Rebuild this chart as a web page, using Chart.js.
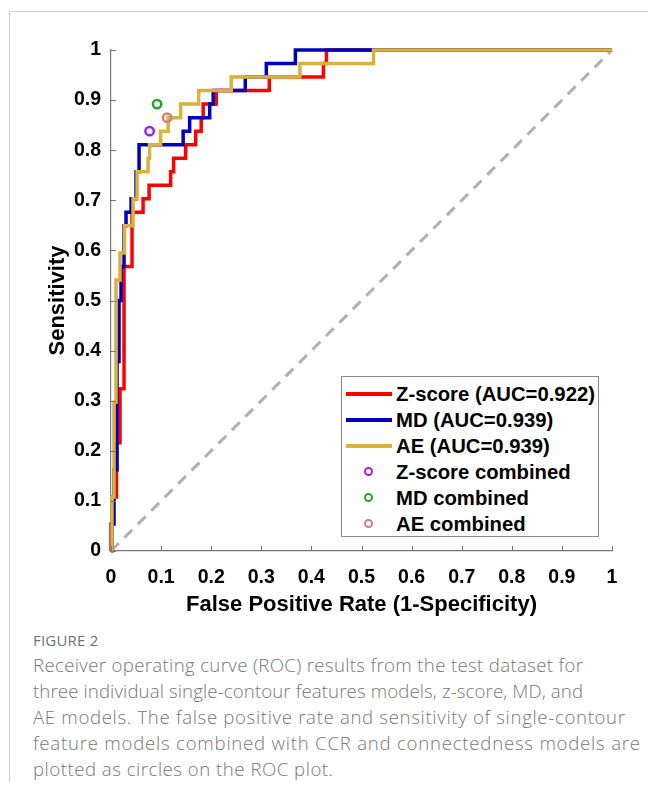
<!DOCTYPE html>
<html>
<head>
<meta charset="utf-8">
<script src="https://cdn.jsdelivr.net/npm/chart.js@4.4.1/dist/chart.umd.min.js"></script>
<style>
  html, body { margin:0; padding:0; background:#fff; }
  body { width:648px; height:794px; position:relative; overflow:hidden; font-family:"Liberation Sans", Arial, sans-serif; }
  #frame { position:absolute; left:9px; top:11px; width:700px; height:770px; border-left:1px solid #cfcfcf; border-top:1px solid #cfcfcf; }
  #wrap { position:absolute; left:0; top:0; width:648px; height:620px; }
  #legend { position:absolute; left:341px; top:376px; width:258px; height:161px; border:1px solid #8a8a8a; background:#fff; box-sizing:border-box; padding-top:4px; }
  .row { position:relative; height:26px; line-height:26px; font-weight:bold; font-size:20.3px; color:#000; white-space:nowrap; }
  .row .sw { position:absolute; left:4px; top:11px; width:46px; height:3.5px; }
  .row .mk { position:absolute; left:22px; top:8px; width:5px; height:5px; border-radius:50%; border:2.5px solid; }
  .row .tx { position:absolute; left:54px; top:0; }
  #figlabel { position:absolute; left:33px; top:631px; font-family:"Open Sans", sans-serif; font-size:15px; line-height:18px; color:#707070; letter-spacing:0.2px; }
  #caption { position:absolute; left:33px; top:652px; width:620px; font-family:"Open Sans", sans-serif; font-weight:300; font-size:18.6px; line-height:26px; color:#777; white-space:nowrap; }
  #caption span { display:inline-block; }
</style>
</head>
<body>
<div id="frame"></div>
<div id="wrap"><canvas id="c" width="648" height="620"></canvas></div>
<div id="legend"></div>
<div id="figlabel">FIGURE 2</div>
<div id="caption"><span>Receiver operating curve (ROC) results from the test dataset for</span><br><span>three individual single-contour features models, z-score, MD, and</span><br><span>AE models. The false positive rate and sensitivity of single-contour</span><br><span>feature models combined with CCR and connectedness models are</span><br><span>plotted as circles on the ROC plot.</span></div>
<script>
// ---- data ----
const seriesLabels = ['Z-score (AUC=0.922)', 'MD (AUC=0.939)', 'AE (AUC=0.939)'];
const zscoreFpr = [0, 0, 0.004, 0.011, 0.018, 0.026, 0.042, 0.064, 0.076, 0.119, 0.125, 0.149, 0.169, 0.180, 0.184, 0.210, 0.316, 0.424, 0.430, 1];
const zscoreTpr = [0, 0.054, 0.108, 0.216, 0.324, 0.568, 0.676, 0.703, 0.730, 0.757, 0.784, 0.811, 0.838, 0.865, 0.892, 0.919, 0.946, 0.973, 1, 1];
const mdFpr = [0, 0.002, 0.006, 0.012, 0.016, 0.020, 0.026, 0.030, 0.040, 0.050, 0.056, 0.144, 0.157, 0.197, 0.204, 0.268, 0.310, 0.368, 1];
const mdTpr = [0, 0.054, 0.162, 0.378, 0.500, 0.568, 0.649, 0.676, 0.703, 0.757, 0.811, 0.838, 0.865, 0.892, 0.919, 0.946, 0.973, 1, 1];
const aeFpr = [0, 0.002, 0.006, 0.010, 0.018, 0.027, 0.044, 0.052, 0.074, 0.077, 0.099, 0.114, 0.139, 0.175, 0.240, 0.377, 0.524, 1];
const aeTpr = [0, 0.108, 0.297, 0.541, 0.595, 0.649, 0.703, 0.757, 0.784, 0.811, 0.838, 0.865, 0.892, 0.919, 0.946, 0.973, 1, 1];
const chanceFpr = [0, 1];
const chanceTpr = [0, 1];
const combinedLabels = ['Z-score combined', 'MD combined', 'AE combined'];
const combinedFpr = [0.077, 0.092, 0.112];
const combinedTpr = [0.838, 0.892, 0.865];
const tickValues = [0, 0.1, 0.2, 0.3, 0.4, 0.5, 0.6, 0.7, 0.8, 0.9, 1];
const tickLabels = ['0', '0.1', '0.2', '0.3', '0.4', '0.5', '0.6', '0.7', '0.8', '0.9', '1'];
const xTitle = 'False Positive Rate (1-Specificity)';
const yTitle = 'Sensitivity';

// ---- styles ----
const lineColors = ['#ff0000', '#0000c0', '#d8b23a'];
const markerColors = ['#a020f0', '#2ca02c', '#d67a85'];

const pts = (xs, ys) => xs.map((x, i) => ({x: x, y: ys[i]}));

const datasets = [
  {label: 'chance', data: pts(chanceFpr, chanceTpr), borderColor: '#b0b0b0', borderWidth: 3, borderDash: [11, 8], pointRadius: 0, order: 10, clip: false},
  {label: seriesLabels[0], data: pts(zscoreFpr, zscoreTpr), borderColor: lineColors[0], borderWidth: 3.5, stepped: true, pointRadius: 0, order: 5, clip: false},
  {label: seriesLabels[1], data: pts(mdFpr, mdTpr), borderColor: lineColors[1], borderWidth: 3.5, stepped: true, pointRadius: 0, order: 4, clip: false},
  {label: seriesLabels[2], data: pts(aeFpr, aeTpr), borderColor: lineColors[2], borderWidth: 3.5, stepped: true, pointRadius: 0, order: 3, clip: false}
];
combinedLabels.forEach((lab, i) => {
  datasets.push({type: 'scatter', label: lab, data: [{x: combinedFpr[i], y: combinedTpr[i]}], showLine: false,
    borderColor: markerColors[i], backgroundColor: 'rgba(0,0,0,0)', pointRadius: 4.2, pointBorderWidth: 2.5, order: 1 - i * 0.1});
});

const innerTicks = {
  id: 'innerTicks',
  afterDatasetsDraw(chart) {
    const {ctx, chartArea: a, scales: {x, y}} = chart;
    ctx.save();
    ctx.strokeStyle = '#777';
    ctx.lineWidth = 1;
    ctx.beginPath();
    tickValues.forEach(v => {
      const px = Math.round(x.getPixelForValue(v)) + 0.5;
      ctx.moveTo(px, a.bottom); ctx.lineTo(px, a.bottom - 5);
      const py = Math.round(y.getPixelForValue(v)) + 0.5;
      ctx.moveTo(a.left, py); ctx.lineTo(a.left + 5, py);
    });
    ctx.stroke();
    ctx.restore();
  }
};

const tickFont = {family: '"Liberation Sans", Arial, sans-serif', size: 19.5, weight: 'bold'};
const titleFont = {family: '"Liberation Sans", Arial, sans-serif', size: 22, weight: 'bold'};

new Chart(document.getElementById('c'), {
  type: 'line',
  data: {datasets: datasets},
  options: {
    responsive: false,
    animation: false,
    layout: {padding: {top: 50, right: 36, left: 0, bottom: 0}},
    plugins: {legend: {display: false}, tooltip: {enabled: false}},
    scales: {
      x: {
        type: 'linear', min: 0, max: 1,
        afterBuildTicks: s => { s.ticks = tickValues.map(v => ({value: v})); },
        afterFit: s => { s.height = 69; },
        ticks: {callback: (v, i) => tickLabels[i], font: tickFont, color: '#000', padding: 15, maxRotation: 0, autoSkip: false},
        grid: {display: false, drawTicks: false},
        border: {display: true, color: '#777', width: 1.2},
        title: {display: true, text: xTitle, font: titleFont, color: '#000', padding: {top: 0, bottom: 2}}
      },
      y: {
        type: 'linear', min: 0, max: 1,
        afterBuildTicks: s => { s.ticks = tickValues.map(v => ({value: v})); },
        afterFit: s => { s.width = 111; },
        ticks: {callback: (v, i) => tickLabels[i], font: tickFont, color: '#000', padding: 10, autoSkip: false},
        grid: {display: false, drawTicks: false},
        border: {display: true, color: '#777', width: 1.2},
        title: {display: true, text: yTitle, font: titleFont, color: '#000', padding: {top: 45, bottom: 0}}
      }
    }
  },
  plugins: [innerTicks]
});

// ---- legend (HTML) ----
const lg = document.getElementById('legend');
seriesLabels.forEach((lab, i) => {
  const r = document.createElement('div'); r.className = 'row';
  r.innerHTML = '<span class="sw" style="background:' + lineColors[i] + '"></span><span class="tx"></span>';
  r.querySelector('.tx').textContent = lab;
  lg.appendChild(r);
});
combinedLabels.forEach((lab, i) => {
  const r = document.createElement('div'); r.className = 'row';
  r.innerHTML = '<span class="mk" style="border-color:' + markerColors[i] + '"></span><span class="tx"></span>';
  r.querySelector('.tx').textContent = lab;
  lg.appendChild(r);
});

// ---- caption line widths matched to the reference layout ----
const captionWidths = [550, 550, 592, 607, 300];
document.querySelectorAll('#caption span').forEach((sp, i) => {
  const w = sp.getBoundingClientRect().width;
  const n = sp.textContent.length;
  sp.style.letterSpacing = ((captionWidths[i] - w) / (n - 1)).toFixed(3) + 'px';
});
</script>
</body>
</html>
